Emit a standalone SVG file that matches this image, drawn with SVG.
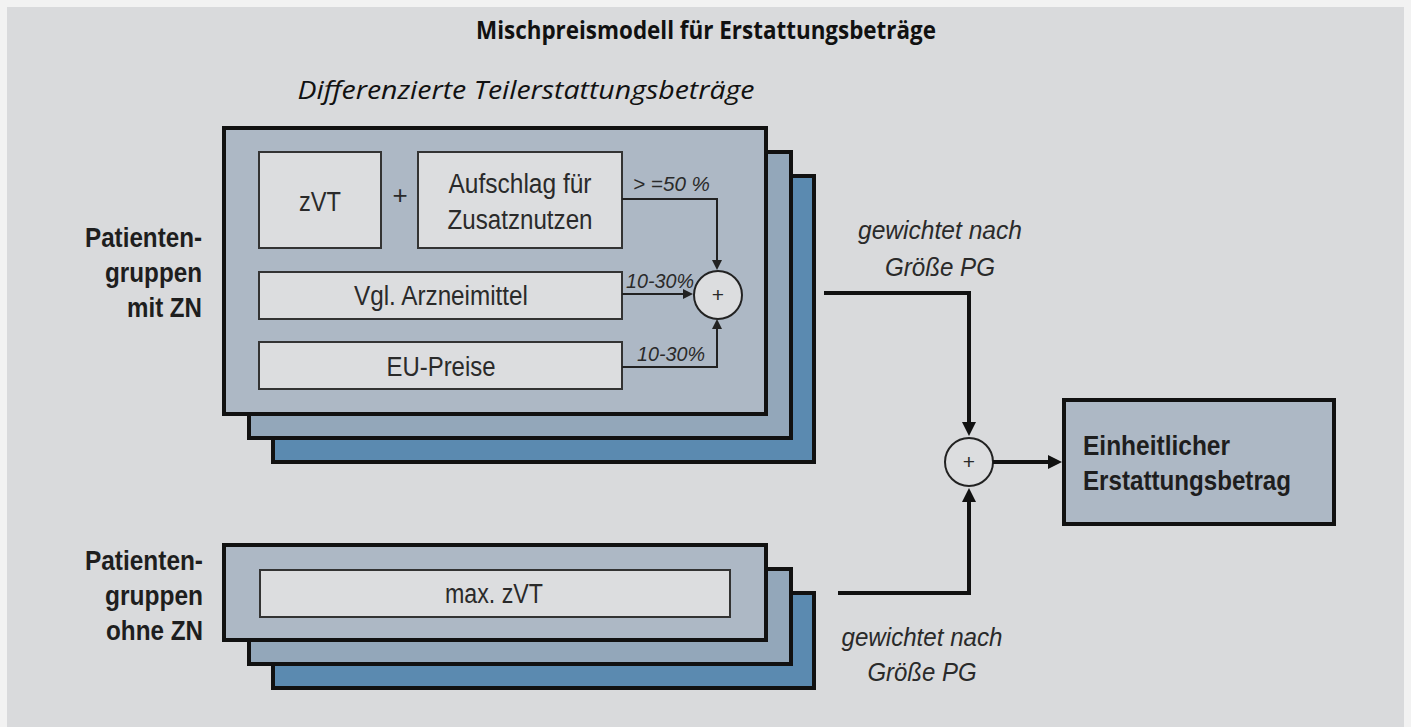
<svg xmlns="http://www.w3.org/2000/svg" width="1411" height="727" viewBox="0 0 1411 727">
<defs>
<style>
.bg{fill:#d9dadc}
.l1{fill:#adb8c5;stroke:#111;stroke-width:4}
.l2{fill:#93a7ba;stroke:#111;stroke-width:4}
.l3{fill:#5b8ab0;stroke:#111;stroke-width:4}
.ib{fill:#dcdddf;stroke:#333;stroke-width:2}
.circ{fill:#dcdddf;stroke:#222;stroke-width:2}
.t{font-family:"Liberation Sans Narrow","Liberation Sans",Arial,sans-serif;fill:#2a2a2a}
.tb{font-family:"Liberation Sans Narrow","Liberation Sans",Arial,sans-serif;font-weight:bold;fill:#1e1e1e}
.ti{font-family:"Liberation Sans Narrow","Liberation Sans",Arial,sans-serif;font-style:italic;fill:#2a2a2a}
.hd{font-family:"Open Sans","Liberation Sans",sans-serif;fill:#111}
.thin{fill:none;stroke:#222;stroke-width:2}
.thick{fill:none;stroke:#111;stroke-width:4}
</style>
<marker id="ab" viewBox="0 0 14 14" refX="2" refY="7" markerWidth="14" markerHeight="14" markerUnits="userSpaceOnUse" orient="auto"><path d="M0,0 L14,7 L0,14 z" fill="#111"/></marker>
<marker id="as" viewBox="0 0 10 10" refX="1" refY="5" markerWidth="10" markerHeight="10" markerUnits="userSpaceOnUse" orient="auto"><path d="M0,0 L10,5 L0,10 z" fill="#222"/></marker>
</defs>
<rect x="0" y="0" width="1411" height="727" fill="#f2f2f2"/>
<rect class="bg" x="7" y="7" width="1397" height="720"/>

<text class="hd" x="706" y="39" text-anchor="middle" font-size="25" font-weight="bold" textLength="460" lengthAdjust="spacingAndGlyphs">Mischpreismodell für Erstattungsbeträge</text>
<text class="hd" x="526" y="99" text-anchor="middle" font-size="25" font-style="italic" fill="#333" textLength="457" lengthAdjust="spacingAndGlyphs">Differenzierte Teilerstattungsbeträge</text>

<g id="stack-mit-zn">
<rect class="l3" x="273" y="176" width="541" height="286"/>
<rect class="l2" x="249" y="152" width="542" height="286"/>
<rect class="l1" x="224" y="128" width="542" height="286"/>
</g>
<g id="label-mit-zn">
<text class="tb" font-size="28" text-anchor="end"><tspan x="202" y="247" textLength="117" lengthAdjust="spacingAndGlyphs">Patienten-</tspan><tspan x="202" y="282" textLength="97" lengthAdjust="spacingAndGlyphs">gruppen</tspan><tspan x="202" y="317" textLength="75" lengthAdjust="spacingAndGlyphs">mit ZN</tspan></text>
</g>
<g id="node-zvt">
<rect class="ib" x="259" y="152" width="122" height="96"/>
<text class="t" x="320" y="211" font-size="27" text-anchor="middle" textLength="42" lengthAdjust="spacingAndGlyphs">zVT</text>
</g>
<text class="t" x="400" y="204" font-size="26" text-anchor="middle">+</text>
<g id="node-aufschlag">
<rect class="ib" x="418" y="152" width="204" height="96"/>
<text class="t" font-size="27" text-anchor="middle"><tspan x="520" y="193" textLength="143" lengthAdjust="spacingAndGlyphs">Aufschlag für</tspan><tspan x="520" y="229" textLength="145" lengthAdjust="spacingAndGlyphs">Zusatznutzen</tspan></text>
</g>
<g id="node-vgl">
<rect class="ib" x="259" y="272" width="363" height="47"/>
<text class="t" x="441" y="305" font-size="27" text-anchor="middle" textLength="174" lengthAdjust="spacingAndGlyphs">Vgl. Arzneimittel</text>
</g>
<g id="node-eu">
<rect class="ib" x="259" y="342" width="363" height="47"/>
<text class="t" x="441" y="376" font-size="27" text-anchor="middle" textLength="109" lengthAdjust="spacingAndGlyphs">EU-Preise</text>
</g>
<g id="sum-inner">
<circle class="circ" cx="718" cy="295" r="24"/>
<text class="t" x="718" y="302" font-size="21" text-anchor="middle">+</text>
</g>

<g id="stack-ohne-zn">
<rect class="l3" x="273" y="593" width="541" height="95"/>
<rect class="l2" x="249" y="569" width="542" height="95"/>
<rect class="l1" x="224" y="545" width="542" height="95"/>
</g>
<g id="label-ohne-zn">
<text class="tb" font-size="28" text-anchor="end"><tspan x="203" y="570" textLength="118" lengthAdjust="spacingAndGlyphs">Patienten-</tspan><tspan x="203" y="605" textLength="98" lengthAdjust="spacingAndGlyphs">gruppen</tspan><tspan x="203" y="640" textLength="97" lengthAdjust="spacingAndGlyphs">ohne ZN</tspan></text>
</g>
<g id="node-maxzvt">
<rect class="ib" x="260" y="570" width="470" height="47"/>
<text class="t" x="494" y="603" font-size="27" text-anchor="middle" textLength="98" lengthAdjust="spacingAndGlyphs">max. zVT</text>
</g>

<g id="sum-outer">
<circle class="circ" cx="969" cy="462" r="24"/>
<text class="t" x="969" y="469" font-size="21" text-anchor="middle">+</text>
</g>
<g id="node-result">
<rect class="l1" x="1064" y="400" width="270" height="124"/>
<text class="tb" font-size="28"><tspan x="1083" y="455" textLength="147" lengthAdjust="spacingAndGlyphs">Einheitlicher</tspan><tspan x="1083" y="490" textLength="208" lengthAdjust="spacingAndGlyphs">Erstattungsbetrag</tspan></text>
</g>

<g id="connectors">
<path class="thin" d="M622,199 H717 V261" marker-end="url(#as)"/>
<path class="thin" d="M622,294 H684" marker-end="url(#as)"/>
<path class="thin" d="M622,367 H717 V328" marker-end="url(#as)"/>
<path class="thick" d="M824,293 H969 V424" marker-end="url(#ab)"/>
<path class="thick" d="M838,593 H969 V500" marker-end="url(#ab)"/>
<path class="thick" d="M993,462 H1050" marker-end="url(#ab)"/>
<text class="ti" x="633" y="191" font-size="21" textLength="77" lengthAdjust="spacingAndGlyphs">&gt; =50 %</text>
<text class="ti" x="626" y="288" font-size="21" textLength="68" lengthAdjust="spacingAndGlyphs">10-30%</text>
<text class="ti" x="637" y="361" font-size="21" textLength="68" lengthAdjust="spacingAndGlyphs">10-30%</text>
<text class="ti" font-size="25" text-anchor="middle"><tspan x="940" y="239" textLength="164" lengthAdjust="spacingAndGlyphs">gewichtet nach</tspan><tspan x="940" y="276" textLength="110" lengthAdjust="spacingAndGlyphs">Größe PG</tspan></text>
<text class="ti" font-size="25" text-anchor="middle"><tspan x="922" y="646" textLength="161" lengthAdjust="spacingAndGlyphs">gewichtet nach</tspan><tspan x="922" y="681" textLength="109" lengthAdjust="spacingAndGlyphs">Größe PG</tspan></text>
</g>
</svg>
